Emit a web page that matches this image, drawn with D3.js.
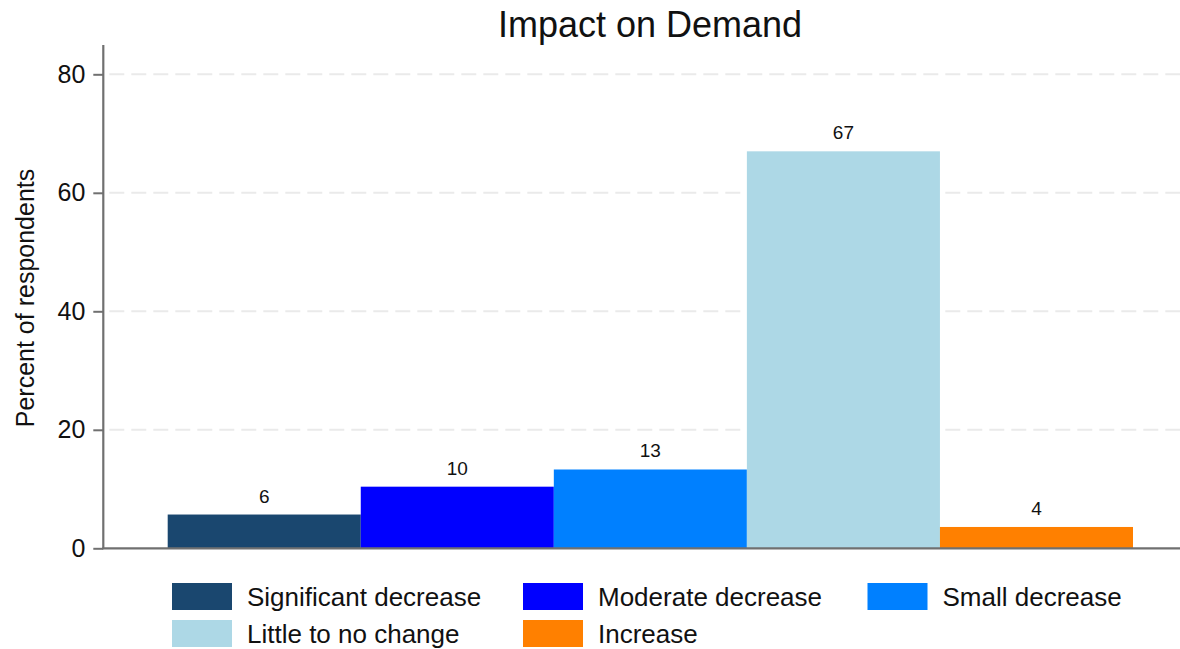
<!DOCTYPE html>
<html>
<head>
<meta charset="utf-8">
<script src="https://cdn.jsdelivr.net/npm/d3@7"></script>
<style>
  html, body { margin: 0; padding: 0; background: #fff; }
  svg { display: block; font-family: "Liberation Sans", Arial, sans-serif; }
</style>
</head>
<body>
<svg id="chart" width="1180" height="649"></svg>
<script>
const categories = ["Significant decrease", "Moderate decrease", "Small decrease", "Little to no change", "Increase"];
const values = [5.7, 10.4, 13.3, 67.0, 3.6];
const colors = ["#1a476f", "#0000ff", "#0080ff", "#add8e6", "#ff8000"];
const yTicks = [0, 20, 40, 60, 80];
const title = "Impact on Demand";
const yTitle = "Percent of respondents";

const svg = d3.select("#chart");
svg.append("rect").attr("width", 1180).attr("height", 649).attr("fill", "#fff");

const plotLeft = 103.3, plotRight = 1180, barLeft = 167.7, barRight = 1133;
const y = d3.scaleLinear().domain([0, 80]).range([548.3, 74.3]);
const x = d3.scaleBand().domain(categories).range([barLeft, barRight]).paddingInner(0).paddingOuter(0);

// gridlines
svg.append("g").selectAll("line").data(yTicks.filter(d => d > 0)).join("line")
  .attr("x1", plotLeft + 2).attr("x2", plotRight)
  .attr("y1", d => y(d)).attr("y2", d => y(d))
  .attr("stroke", "#eaeaea").attr("stroke-width", 2)
  .attr("stroke-dasharray", "15,7").attr("stroke-dashoffset", -4);

// bars
svg.append("g").selectAll("rect").data(categories).join("rect")
  .attr("x", d => x(d)).attr("width", x.bandwidth())
  .attr("y", (d, i) => y(values[i])).attr("height", (d, i) => y(0) - y(values[i]))
  .attr("fill", (d, i) => colors[i]);

// bar labels
svg.append("g").selectAll("text").data(categories).join("text")
  .attr("x", d => x(d) + x.bandwidth() / 2)
  .attr("y", (d, i) => y(values[i]) - 12)
  .attr("text-anchor", "middle").attr("font-size", 19).attr("fill", "#111")
  .text((d, i) => d3.format(".0f")(values[i]));

// y axis
const yAxis = d3.axisLeft(y).tickValues(yTicks).tickSize(10).tickPadding(8).tickFormat(d3.format("d"));
const gy = svg.append("g").attr("transform", `translate(${plotLeft},0)`).call(yAxis);
gy.select(".domain").attr("stroke", "#707070").attr("stroke-width", 2.2).attr("d", `M0,${y(0)}V45`);
gy.selectAll(".tick line").attr("stroke", "#707070").attr("stroke-width", 2);
gy.selectAll(".tick text").attr("font-size", 25).attr("fill", "#111").attr("font-family", "Liberation Sans, Arial, sans-serif");

// x axis line
svg.append("line").attr("x1", plotLeft - 1).attr("x2", plotRight).attr("y1", y(0)).attr("y2", y(0))
  .attr("stroke", "#707070").attr("stroke-width", 2.2);

// title
svg.append("text").attr("x", 650).attr("y", 37).attr("text-anchor", "middle")
  .attr("font-size", 36).attr("fill", "#111").text(title);

// y title
svg.append("text").attr("transform", "translate(34,298) rotate(-90)")
  .attr("text-anchor", "middle").attr("font-size", 25).attr("fill", "#111").text(yTitle);

// legend
const legendCols = [172, 523, 867.5];
const legendRows = [583, 620];
const lg = svg.append("g").selectAll("g").data(categories).join("g")
  .attr("transform", (d, i) => `translate(${legendCols[i % 3]},${legendRows[Math.floor(i / 3)]})`);
lg.append("rect").attr("width", 60).attr("height", 27).attr("fill", (d, i) => colors[i]);
lg.append("text").attr("x", 75).attr("y", 23).attr("font-size", 26).attr("fill", "#111").text(d => d);
</script>
</body>
</html>
